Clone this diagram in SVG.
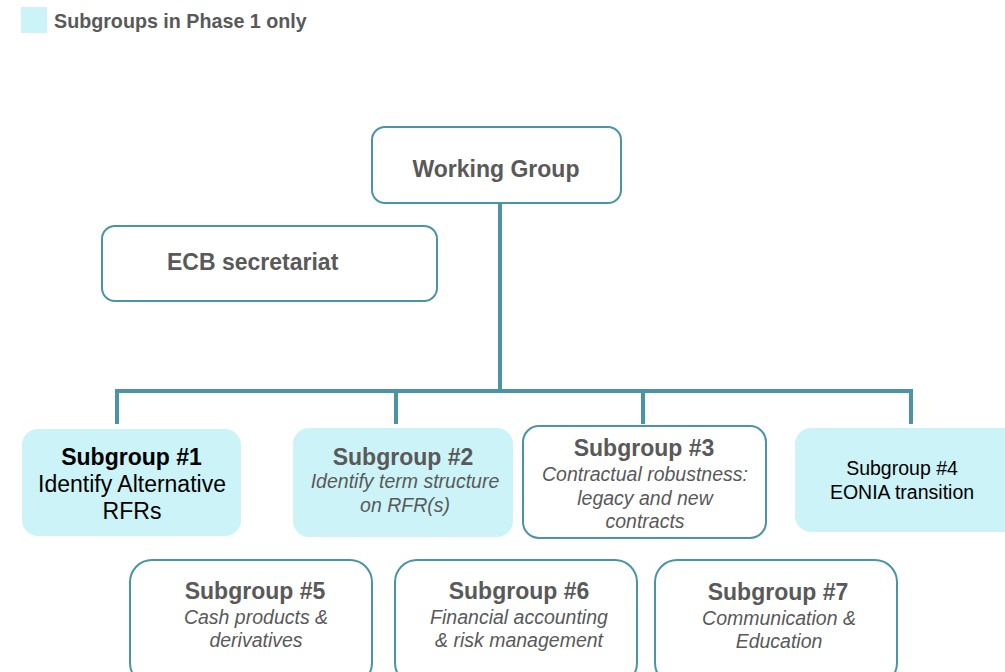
<svg xmlns="http://www.w3.org/2000/svg" width="1005" height="672" viewBox="0 0 1005 672">
<style>
.outline{fill:#ffffff;stroke:#4a94a6;stroke-width:2}
.phase1{fill:#ccf3f7;stroke:none}
.conn{fill:none;stroke:#4a94a6;stroke-width:4;stroke-linecap:butt}
text{font-family:"Liberation Sans",Arial,sans-serif;text-anchor:middle}
.title{font-weight:bold;font-size:23px;fill:#595959}
.sub{font-style:italic;font-size:19.5px;fill:#595959}
.blk{fill:#000000}
</style>
<rect width="1005" height="672" fill="#ffffff"/>
<g id="legend">
<rect x="21" y="7" width="26" height="26" class="phase1"/>
<text x="54" y="28" style="text-anchor:start;font-weight:bold;font-size:19.7px;fill:#595959">Subgroups in Phase 1 only</text>
</g>
<g id="connectors">
<path class="conn" d="M500 203 V391"/>
<path class="conn" d="M117 424 V391 H911 V424"/>
<path class="conn" d="M396 391 V424"/>
<path class="conn" d="M643 391 V424"/>
</g>
<g id="working-group">
<rect x="372" y="127" width="249" height="76" rx="13" class="outline"/>
<text x="496" y="177" class="title">Working Group</text>
</g>
<g id="ecb-secretariat">
<rect x="102" y="226" width="335" height="75" rx="13" class="outline"/>
<text x="167" y="270" class="title" style="text-anchor:start">ECB secretariat</text>
</g>
<g id="subgroup-1">
<rect x="22" y="429" width="219" height="107" rx="16" class="phase1"/>
<text x="131.5" y="465" class="title blk">Subgroup #1</text>
<text x="132" y="492" style="font-size:23px;fill:#000">Identify Alternative</text>
<text x="132" y="519" style="font-size:23px;fill:#000">RFRs</text>
</g>
<g id="subgroup-2">
<rect x="293" y="428" width="220" height="109" rx="16" class="phase1"/>
<text x="403" y="465" class="title">Subgroup #2</text>
<text x="405" y="488" class="sub">Identify term structure</text>
<text x="405" y="512" class="sub">on RFR(s)</text>
</g>
<g id="subgroup-3">
<rect x="523" y="426" width="243" height="112" rx="16" class="outline"/>
<text x="644" y="456" class="title">Subgroup #3</text>
<text x="645" y="481" class="sub">Contractual robustness:</text>
<text x="645" y="505" class="sub">legacy and new</text>
<text x="645" y="528" class="sub">contracts</text>
</g>
<g id="subgroup-4">
<rect x="795" y="428" width="225" height="104" rx="16" class="phase1"/>
<text x="902" y="475" style="font-size:19.5px;fill:#000">Subgroup #4</text>
<text x="902" y="499" style="font-size:19.5px;fill:#000">EONIA transition</text>
</g>
<g id="subgroup-5">
<rect x="130" y="560" width="242" height="125" rx="22" class="outline"/>
<text x="255" y="599" class="title">Subgroup #5</text>
<text x="256" y="624" class="sub">Cash products &amp;</text>
<text x="256" y="647" class="sub">derivatives</text>
</g>
<g id="subgroup-6">
<rect x="395" y="560" width="242" height="125" rx="22" class="outline"/>
<text x="519" y="599" class="title">Subgroup #6</text>
<text x="519" y="624" class="sub">Financial accounting</text>
<text x="519" y="647" class="sub">&amp; risk management</text>
</g>
<g id="subgroup-7">
<rect x="655" y="560" width="242" height="125" rx="22" class="outline"/>
<text x="778" y="600" class="title">Subgroup #7</text>
<text x="779" y="625" class="sub">Communication &amp;</text>
<text x="779" y="648" class="sub">Education</text>
</g>
</svg>
